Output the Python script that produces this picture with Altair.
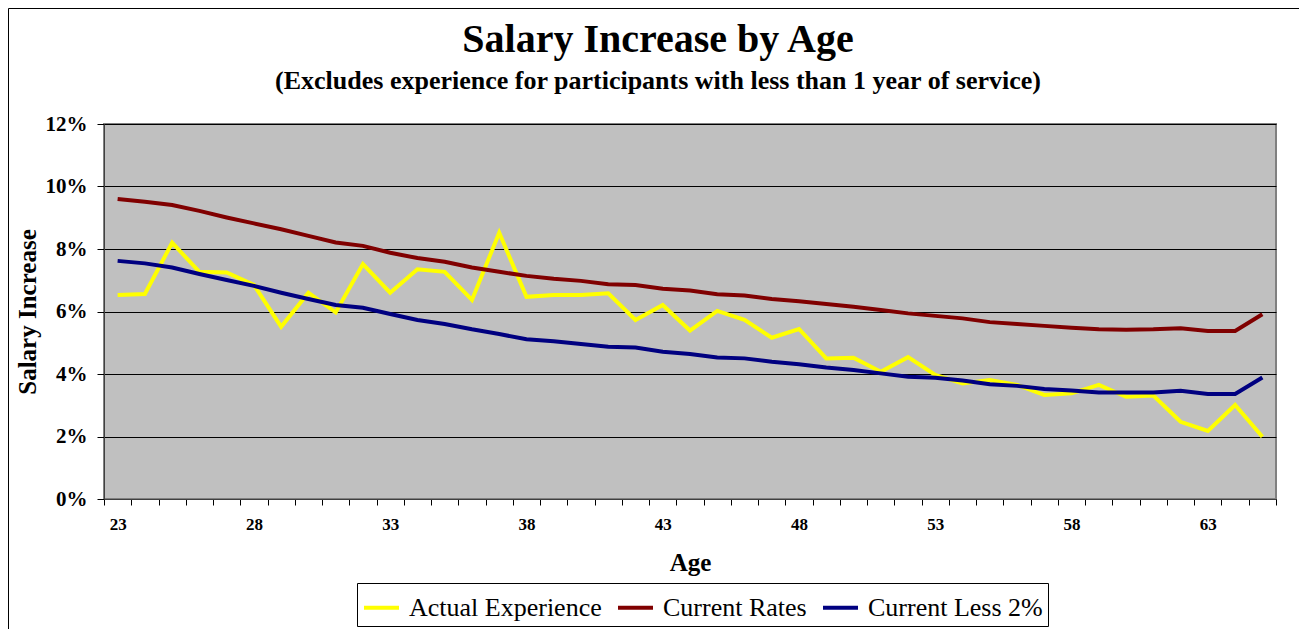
import altair as alt
import pandas as pd

# ---------------- data ----------------
ages = list(range(23, 66))
actual_experience = [6.53, 6.56, 8.20, 7.27, 7.25, 6.85, 5.51, 6.60, 5.97, 7.52, 6.60, 7.35, 7.27, 6.37, 8.52, 6.47,
                     6.53, 6.53, 6.58, 5.73, 6.21, 5.39, 6.02, 5.73, 5.16, 5.44, 4.50, 4.52, 4.07, 4.54,
                     3.97, 3.70, 3.81, 3.65, 3.33, 3.38, 3.65, 3.27, 3.31, 2.47, 2.18, 3.01, 1.99]
current_rates = [9.60, 9.51, 9.41, 9.22, 9.01, 8.82, 8.63, 8.42, 8.21, 8.10, 7.88, 7.71, 7.59, 7.41, 7.27, 7.14,
                 7.05, 6.98, 6.87, 6.85, 6.73, 6.67, 6.55, 6.51, 6.40, 6.33, 6.24, 6.15, 6.05, 5.94,
                 5.86, 5.78, 5.66, 5.60, 5.54, 5.48, 5.43, 5.42, 5.43, 5.46, 5.38, 5.38, 5.91]
current_less_2 = [7.62, 7.54, 7.41, 7.20, 7.01, 6.82, 6.60, 6.40, 6.21, 6.12, 5.92, 5.73, 5.60, 5.43, 5.28, 5.11,
                  5.05, 4.96, 4.87, 4.85, 4.71, 4.64, 4.53, 4.50, 4.39, 4.31, 4.21, 4.13, 4.02, 3.91,
                  3.88, 3.79, 3.67, 3.62, 3.52, 3.47, 3.41, 3.41, 3.41, 3.46, 3.36, 3.36, 3.89]
series_names = ["Actual Experience", "Current Rates", "Current Less 2%"]
series_colors = ["#FFFF00", "#800000", "#000080"]
y_tick_values = [0, 2, 4, 6, 8, 10, 12]
x_label_every = 5

rows = []
for name, vals in zip(series_names, [actual_experience, current_rates, current_less_2]):
    for a, v in zip(ages, vals):
        rows.append({"Age": a, "Series": name, "Value": v})
df = pd.DataFrame(rows)

FONT = "Liberation Serif"
W, H = 1172, 375
n_cat = len(ages)
x_lo, x_hi = ages[0] - 0.5, ages[-1] + 0.5
x_tick_values = [a - 0.5 for a in ages] + [x_hi]

x_enc = alt.X(
    "Age:Q",
    scale=alt.Scale(domain=[x_lo, x_hi], nice=False, zero=False),
    axis=alt.Axis(
        values=x_tick_values,
        labelExpr=f"(datum.value - {x_lo}) % {x_label_every} == 0 ? '' + (datum.value + 0.5) : ''",
        labelOffset=W / n_cat / 2,
        labelOverlap=False,
        labelFlush=False,
        labelFontSize=17,
        labelPadding=11,
        tickSize=6,
        grid=False,
        title="Age",
        titleFontSize=25,
        titleBaseline="alphabetic",
        titleY=71,
    ),
)
y_enc = alt.Y(
    "Value:Q",
    scale=alt.Scale(domain=[0, 12], nice=False, zero=True),
    axis=alt.Axis(
        values=y_tick_values,
        labelExpr="datum.value + '%'",
        labelFontSize=21,
        labelPadding=10,
        tickSize=7,
        grid=True,
        gridColor="black",
        gridWidth=1,
        gridOpacity=1,
        title="Salary Increase",
        titleFontSize=25,
        titleAngle=270,
        titleAlign="center",
        titleBaseline="alphabetic",
        titleX=-69,
        titleY=H / 2,
    ),
)
color_enc = alt.Color(
    "Series:N",
    scale=alt.Scale(domain=series_names, range=series_colors),
    legend=alt.Legend(
        title=None,
        orient="none",
        direction="horizontal",
        legendX=253,
        legendY=459,
        symbolType="stroke",
        symbolSize=1225,
        symbolStrokeWidth=4,
        labelFont=FONT,
        labelFontSize=26,
        labelColor="black",
        labelLimit=400,
        labelOffset=8,
        columnPadding=8,
        padding=5,
        strokeColor="black",
        fillColor="white",
    ),
)

layers = []
for name in series_names:
    layers.append(
        alt.Chart(df)
        .transform_filter(alt.datum.Series == name)
        .mark_line(strokeWidth=4)
        .encode(x=x_enc, y=y_enc, color=color_enc)
    )

frame_df = pd.DataFrame({"k": [0]})
frame_left = alt.Chart(frame_df).mark_rule(color="black", strokeWidth=1).encode(
    x=alt.value(-95.5), y=alt.value(-115.5), y2=alt.value(505)
)
frame_top = alt.Chart(frame_df).mark_rule(color="black", strokeWidth=1).encode(
    x=alt.value(-95.5), x2=alt.value(1195), y=alt.value(-115.5)
)

chart = (
    alt.layer(*layers, frame_left, frame_top)
    .properties(
        width=W,
        height=H,
        autosize=alt.AutoSizeParams(type="none"),
        padding={"left": 96, "top": 116, "right": 23, "bottom": 130},
        background="white",
        title=alt.Title(
            text="Salary Increase by Age",
            subtitle="(Excludes experience for participants with less than 1 year of service)",
            font=FONT,
            fontSize=40,
            fontWeight="bold",
            color="black",
            subtitleFont=FONT,
            subtitleFontSize=26,
            subtitleFontWeight="bold",
            subtitleColor="black",
            subtitlePadding=8,
            anchor="middle",
            dx=-32,
            offset=-86,
        ),
    )
    .configure_view(fill="#C0C0C0", stroke="#808080", strokeWidth=2)
    .configure_axis(
        labelFont=FONT,
        labelFontWeight="bold",
        labelColor="black",
        titleFont=FONT,
        titleFontWeight="bold",
        titleColor="black",
        tickColor="black",
        domainColor="#404040",
        domainWidth=1,
    )
)

chart.save("out.html", embed_options={"renderer": "svg", "actions": False})
